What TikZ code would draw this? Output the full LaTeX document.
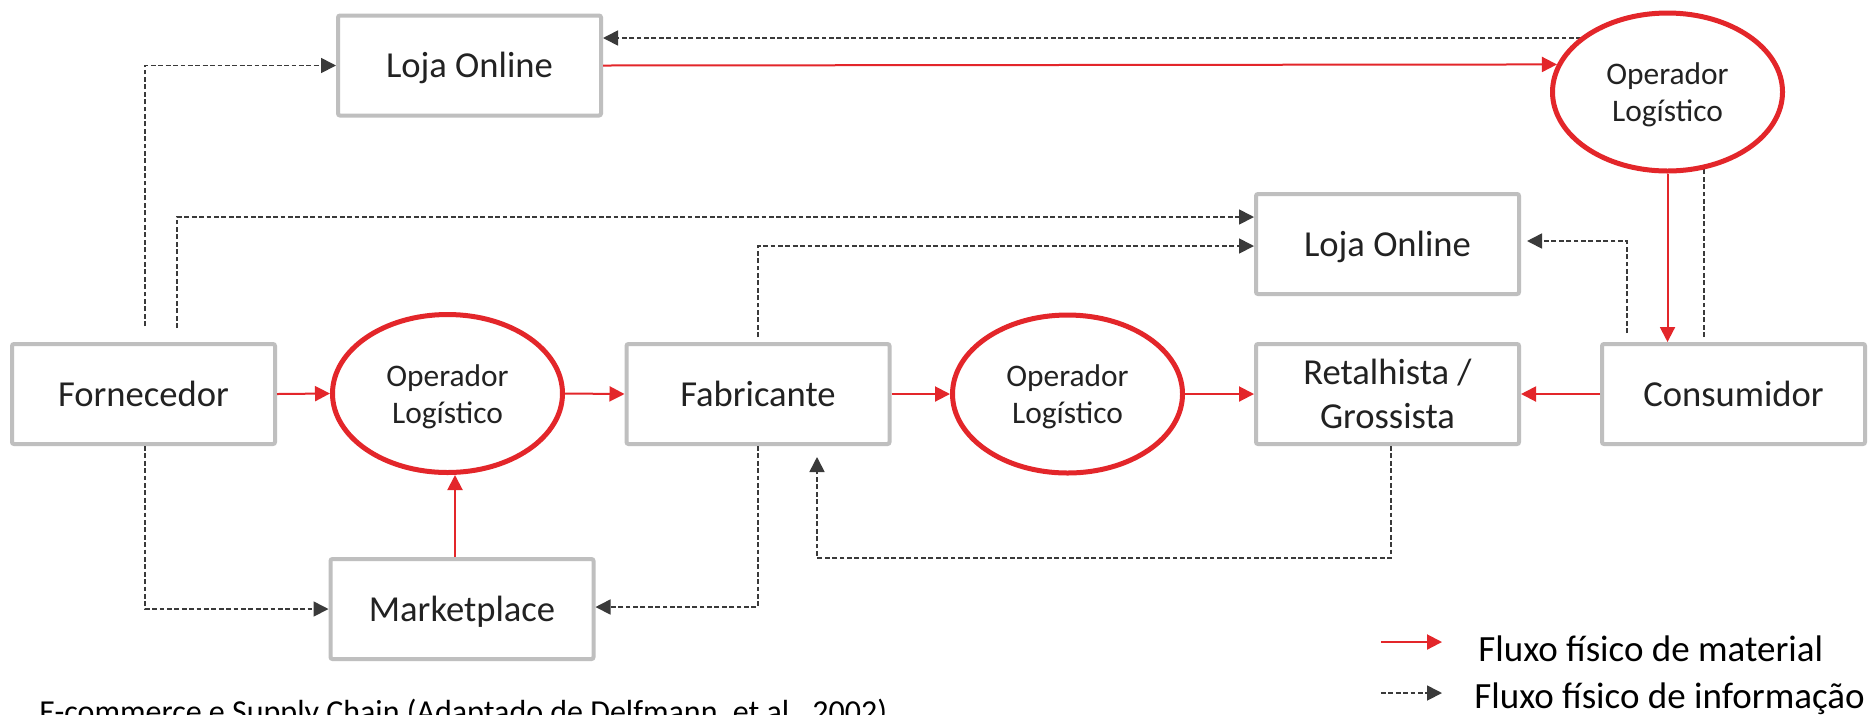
\documentclass[tikz,border=0pt]{standalone}
\usepackage{fontspec}
\setmainfont{Carlito}
\usetikzlibrary{shapes.geometric,arrows.meta}
\definecolor{boxgray}{HTML}{BFBFBF}
\definecolor{flowred}{HTML}{E3262A}
\definecolor{infogray}{HTML}{3A3A3A}
\definecolor{txt}{HTML}{222222}
% two centred lines; the first baseline sits 3.75pt above the node centre
\newcommand{\oplines}[2]{\raisebox{3.75pt}[0pt][0pt]{\begin{tabular}[t]{@{}c@{}}#1\\#2\end{tabular}}}
\begin{document}
\begin{tikzpicture}[x=0.5pt,y=-0.5pt,
  stagebox/.style={draw=boxgray,line width=2pt,fill=white,rounded corners=1pt,
    minimum width=131.5pt,minimum height=50pt,inner sep=0pt,align=center,
    text=txt,font=\fontsize{18.3}{22}\selectfont},
  oneline/.style={text height=12pt,text depth=0pt},
  oplog/.style={ellipse,draw=flowred,line width=2.5pt,fill=white,
    minimum width=115pt,minimum height=79pt,inner sep=0pt,
    text=txt,font=\fontsize{15.7}{18.5}\selectfont},
  material/.style={draw=flowred,line width=1pt,-{Triangle[length=7.5pt,width=7.5pt]}},
  info/.style={draw=infogray,line width=0.85pt,dash pattern=on 2.4pt off 1.3pt,
    -{Triangle[length=7.5pt,width=7.5pt,fill=infogray]}},
  legendtext/.style={anchor=base west,inner sep=0pt,text=black,
    font=\fontsize{18.5}{22}\selectfont},
  captiontext/.style={anchor=base west,inner sep=0pt,text=black,
    font=\fontsize{16}{19}\selectfont}]
\clip (0,0) rectangle (1871,714);
\fill[white] (0,0) rectangle (1871,714);

% stages of the chain
\node[stagebox,oneline] (loja1) at (469.5,65.5) {Loja Online};
\node[stagebox,oneline] (loja2) at (1387.5,244) {Loja Online};
\node[stagebox,oneline] (forn) at (143.5,394) {Fornecedor};
\node[stagebox,oneline] (fab) at (758,394) {Fabricante};
\node[stagebox] (ret) at (1387.5,394) {Retalhista /\\Grossista};
\node[stagebox,oneline] (cons) at (1733.5,394) {Consumidor};
\node[stagebox,oneline] (mkt) at (462,609) {Marketplace};

% information from the consumer to the first online shop, passing behind the operator
\draw[info] ([xshift=-14.75pt,yshift=2.5pt]cons.north) |- ([yshift=13.75pt]loja1.east);

% logistics operators
\node[oplog] (ell1) at (447.5,393.5) {\oplines{Operador}{Logístico}};
\node[oplog] (ell2) at (1067.5,394) {\oplines{Operador}{Logístico}};
\node[oplog] (ell3) at (1667.5,92) {\oplines{Operador}{Logístico}};

% material flows
\draw[material] (forn.east) -- (ell1.west);
\draw[material] (ell1.east) -- (fab.west);
\draw[material] (fab.east) -- (ell2.west);
\draw[material] (ell2.east) -- (ret.west);
\draw[material] (cons.west) -- (ret.east);
\draw[material] ([xshift=-3.5pt]mkt.north) -- ([xshift=3.75pt]ell1.south);
\draw[material] (loja1.east) -- (ell3.166);
\draw[material] (ell3.south) -- (ell3.south |- cons.north);

% information flows
\draw[info] ([xshift=0.75pt,yshift=8pt]forn.north) |- (loja1.west);
\draw[info] ([xshift=16.75pt,yshift=7pt]forn.north) |- ([yshift=13.5pt]loja2.west);
\draw[info] ([yshift=2.5pt]fab.north) |- ([yshift=-1pt]loja2.west);
\draw[info] ([xshift=0.75pt]forn.south) |- (mkt.west);
\draw[info] (fab.south) |- ([yshift=1pt]mkt.east);
\draw[info] ([xshift=1.75pt]ret.south) |- ([xshift=29.5pt,yshift=-56pt]fab.south)
  -- ([xshift=29.5pt,yshift=-5.5pt]fab.south);
\draw[info,shorten >=3pt] ([xshift=-53.25pt,yshift=4.5pt]cons.north) |- ([yshift=1.5pt]loja2.east);

% legend
\coordinate (lgA1) at (1381,642);
\coordinate (lgA2) at (1442,642);
\coordinate (lgB1) at (1381,693);
\coordinate (lgB2) at (1442,693);
\draw[material] (lgA1) -- (lgA2);
\draw[info] (lgB1) -- (lgB2);
\node[legendtext] (lgAt) at (1478,661) {Fluxo físico de material};
\node[legendtext] (lgBt) at (1474,708) {Fluxo físico de informação};

% caption
\node[captiontext] (cap) at (39,722.5) {E-commerce e Supply Chain (Adaptado de Delfmann, et al., 2002)};
\end{tikzpicture}
\end{document}
